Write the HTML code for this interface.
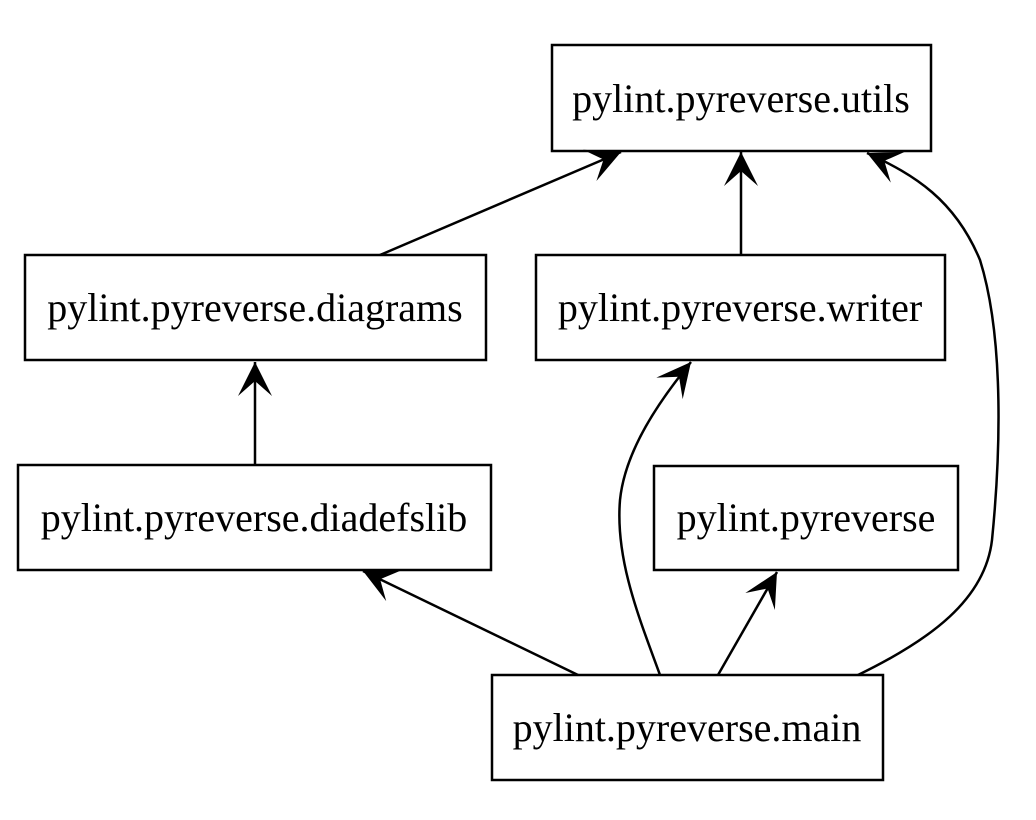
<!DOCTYPE html>
<html><head><meta charset="utf-8"><style>
html,body{margin:0;padding:0;background:#fff}
svg{display:block}
text{font-family:"Liberation Serif",serif;font-size:40px;fill:#000}
</style></head><body>
<svg width="1036" height="820" viewBox="0 0 1036 820" xmlns="http://www.w3.org/2000/svg">
<defs>
<marker id="v" markerUnits="userSpaceOnUse" viewBox="-36 -18 38 36" markerWidth="38" markerHeight="36" refX="0" refY="0" orient="auto">
<path d="M0,0 L-34,-17 L-19,0 L-34,17 Z" fill="#000"/>
</marker>
</defs>
<g fill="none" stroke="#000" stroke-width="2.5">
<rect x="552" y="45" width="379" height="106"/>
<rect x="25" y="255" width="461" height="105"/>
<rect x="536" y="255" width="409" height="105"/>
<rect x="18" y="465" width="473" height="105"/>
<rect x="654" y="466" width="304" height="104"/>
<rect x="492" y="675" width="391" height="105"/>
</g>
<g fill="none" stroke="#000" stroke-width="2.5" marker-end="url(#v)">
<path d="M380,255 L621,152"/>
<path d="M741,255 L741,152"/>
<path d="M255,465 L255,362"/>
<path d="M578,675 L363,571"/>
<path d="M718,675 L777,572"/>
<path d="M660,675 C640,620 615,560 620,500 C625,450 660,400 691,362"/>
<path d="M858,675 C930,640 985,600 992,540 C1000,460 1005,340 980,260 C955,200 915,175 867,153"/>
</g>
<g text-anchor="middle">
<text x="741" y="112">pylint.pyreverse.utils</text>
<text x="255" y="321">pylint.pyreverse.diagrams</text>
<text x="740" y="321">pylint.pyreverse.writer</text>
<text x="254" y="531">pylint.pyreverse.diadefslib</text>
<text x="806" y="531">pylint.pyreverse</text>
<text x="687" y="741">pylint.pyreverse.main</text>
</g>
</svg>
</body></html>
